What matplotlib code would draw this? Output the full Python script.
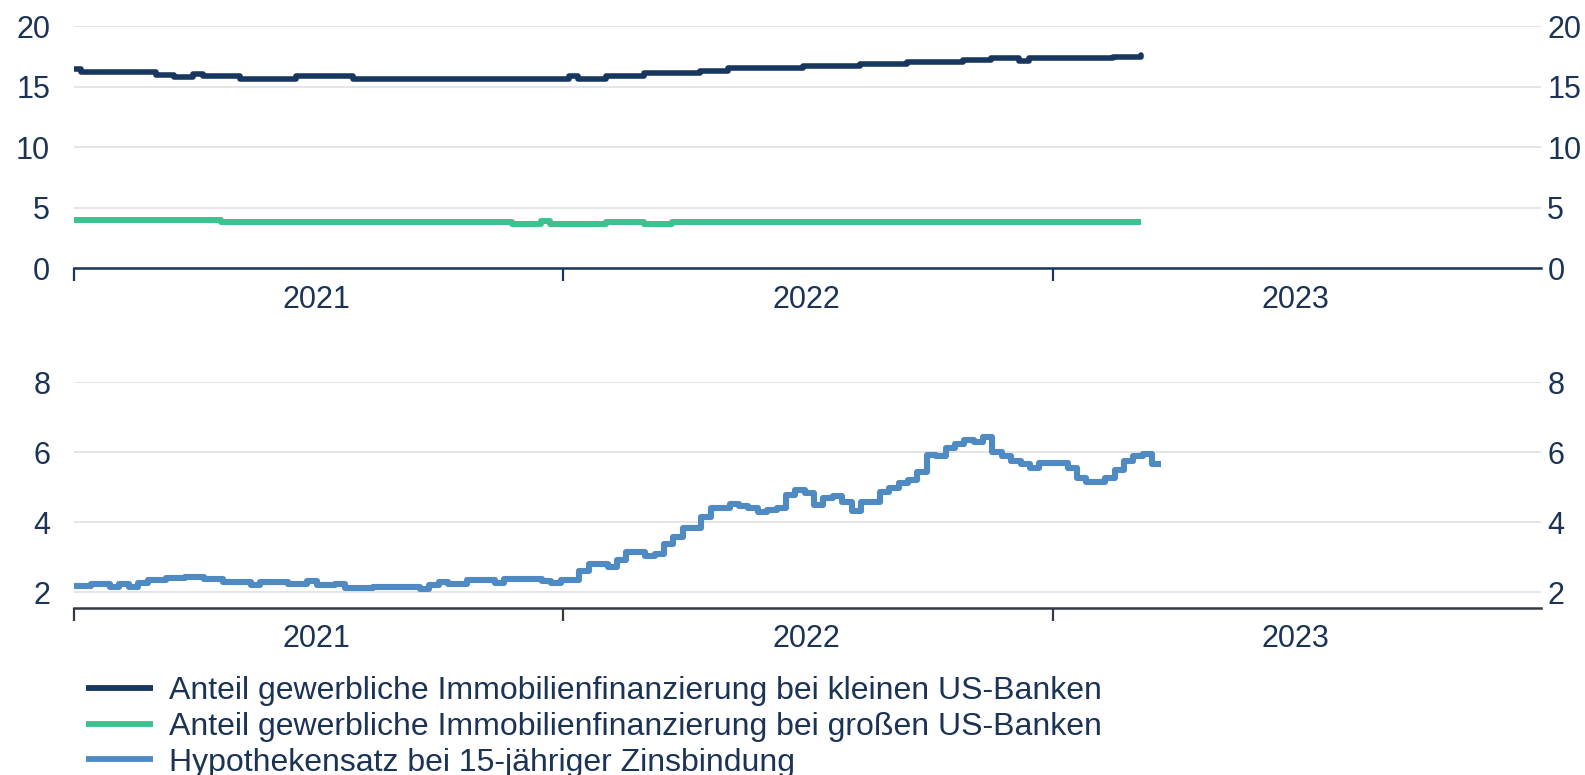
import matplotlib
matplotlib.use("Agg")
import matplotlib.pyplot as plt
import matplotlib.dates as mdates
from matplotlib.lines import Line2D
import pandas as pd

plt.rcParams['font.family'] = ['Liberation Sans', 'DejaVu Sans']

# ---------------- data ----------------
# weekly (Wednesday) observations, share of commercial real estate loans (%)
cre_start = "2020-12-30"
cre_small = [
    16.45,
    16.19, 16.19, 16.19, 16.19, 16.19, 16.19, 16.19, 16.19,
    15.99, 15.99, 15.83, 15.83, 16.05,
    15.91, 15.91, 15.91, 15.91,
    15.64, 15.64, 15.64, 15.64, 15.64, 15.64,
    15.91, 15.91, 15.91, 15.91, 15.91, 15.91,
    15.62, 15.62, 15.62, 15.62, 15.62, 15.62, 15.62, 15.62, 15.62, 15.62,
    15.62, 15.62, 15.62, 15.62, 15.62, 15.62, 15.62, 15.62, 15.62, 15.62,
    15.62, 15.62, 15.62,
    # 2022
    15.90, 15.67, 15.67, 15.67, 15.88, 15.88, 15.88, 15.88,
    16.11, 16.11, 16.11, 16.11, 16.11, 16.11, 16.33, 16.33, 16.33,
    16.52, 16.52, 16.52, 16.52, 16.52, 16.52, 16.52, 16.52,
    16.71, 16.71, 16.71, 16.71, 16.71, 16.71,
    16.88, 16.88, 16.88, 16.88, 16.88,
    17.07, 17.07, 17.07, 17.07, 17.07, 17.07,
    17.24, 17.24, 17.24, 17.38, 17.38, 17.38, 17.16,
    17.38, 17.38, 17.38,
    # 2023
    17.38, 17.38, 17.38, 17.38, 17.38, 17.38,
    17.49, 17.49, 17.49, 17.62,
]
cre_large = [
    4.00, 4.00, 4.00, 4.00, 4.00, 4.00, 4.00, 4.00,
    4.00, 4.00, 4.00, 4.00, 4.00, 4.00, 4.00, 4.00,
    3.80, 3.80, 3.80, 3.80, 3.80, 3.80, 3.80, 3.80, 3.80, 3.80,
    3.80, 3.80, 3.80, 3.80, 3.80, 3.80, 3.80, 3.80, 3.80, 3.80,
    3.80, 3.80, 3.80, 3.80, 3.80, 3.80, 3.80, 3.80, 3.80, 3.80,
    3.80,
    3.65, 3.65, 3.65, 3.88, 3.65, 3.65,
    # 2022
    3.65, 3.65, 3.65, 3.65, 3.84, 3.84, 3.84, 3.84, 3.65, 3.65, 3.65,
    3.80, 3.80, 3.80, 3.80, 3.80, 3.80, 3.80, 3.80, 3.80, 3.80,
    3.80, 3.80, 3.80, 3.80, 3.80, 3.80, 3.80, 3.80, 3.80, 3.80,
    3.80, 3.80, 3.80, 3.80, 3.80, 3.80, 3.80, 3.80, 3.80, 3.80,
    3.80, 3.80, 3.80, 3.80, 3.80, 3.80, 3.80, 3.80, 3.80, 3.80,
    3.80,
    # 2023
    3.80, 3.80, 3.80, 3.80, 3.80, 3.80, 3.80, 3.80, 3.80, 3.80,
]

# weekly (Thursday) 15-year fixed mortgage rate (%)
mort_start = "2020-12-31"
mortgage15 = [
    2.17, 2.17, 2.24, 2.24, 2.15,
    2.24, 2.15, 2.28, 2.34,
    2.34, 2.40, 2.40, 2.45,
    2.45, 2.37, 2.37, 2.30, 2.30,
    2.30, 2.22, 2.29, 2.29,
    2.29, 2.23, 2.23, 2.32,
    2.20, 2.20, 2.24, 2.12, 2.12,
    2.12, 2.16, 2.16, 2.16,
    2.16, 2.16, 2.11, 2.20,
    2.29, 2.24, 2.24, 2.34, 2.34,
    2.34, 2.27, 2.38, 2.38,
    2.38, 2.38, 2.33, 2.27, 2.34,
    # 2022
    2.36, 2.62, 2.81, 2.81,
    2.73, 2.92, 3.14, 3.14,
    3.05, 3.10, 3.38, 3.59,
    3.84, 3.84, 4.16, 4.41, 4.41,
    4.52, 4.45, 4.40, 4.29,
    4.36, 4.40, 4.79, 4.92,
    4.83, 4.48, 4.69, 4.74, 4.57,
    4.31, 4.57, 4.57, 4.86,
    4.97, 5.12, 5.21, 5.43, 5.93,
    5.89, 6.12, 6.24, 6.35,
    6.28, 6.42, 6.00, 5.89,
    5.76, 5.65, 5.54, 5.70, 5.70,
    # 2023
    5.70, 5.54, 5.27, 5.14,
    5.14, 5.27, 5.48, 5.76,
    5.89, 5.95, 5.67, 5.67,
]

labels = [
    "Anteil gewerbliche Immobilienfinanzierung bei kleinen US-Banken",
    "Anteil gewerbliche Immobilienfinanzierung bei großen US-Banken",
    "Hypothekensatz bei 15-jähriger Zinsbindung",
]
top_ticks = [0, 5, 10, 15, 20]
bottom_ticks = [2, 4, 6, 8]

cre_dates = pd.date_range(cre_start, periods=len(cre_small), freq="7D")
mort_dates = pd.date_range(mort_start, periods=len(mortgage15), freq="7D")

# ---------------- style ----------------
NAVY = "#17375e"
GREEN = "#3cc28e"
BLUE = "#4f8ac3"
TXT = "#1b3354"
GRID = "#e3e3e3"
FS = 22
FS_LEG = 23

W_FIG, H_FIG = 1585, 775
fig = plt.figure(figsize=(W_FIG / 100, H_FIG / 100), dpi=100)
left = 73.8 / W_FIG
width = (1541 - 73.8) / W_FIG
ax1 = fig.add_axes([left, 1 - 268 / H_FIG, width, (268 - 26.3) / H_FIG])
ax2 = fig.add_axes([left, 1 - 607.5 / H_FIG, width, (607.5 - 382) / H_FIG])

xmin, xmax = pd.Timestamp("2021-01-01"), pd.Timestamp("2023-12-31")

ax1.plot(cre_dates, cre_small, drawstyle="steps-post", color=NAVY,
         lw=4.0, solid_joinstyle="round", solid_capstyle="round", zorder=3)
ax1.plot(cre_dates, cre_large, drawstyle="steps-post", color=GREEN,
         lw=4.3, solid_joinstyle="round", solid_capstyle="butt", zorder=3)
ax2.plot(mort_dates, mortgage15, drawstyle="steps-post", color=BLUE,
         lw=4.4, solid_joinstyle="round", solid_capstyle="butt", zorder=3)

for ax, ticks, ylim, axcol in [(ax1, top_ticks, (0, 20), NAVY),
                               (ax2, bottom_ticks, (1.57, 8), "#333a44")]:
    ax.set_xlim(xmin, xmax)
    ax.set_ylim(*ylim)
    ax.set_yticks(ticks)
    ax.grid(axis="y", color=GRID, lw=1.3, zorder=0)
    ax.set_axisbelow(True)
    for s in ["top", "left", "right"]:
        ax.spines[s].set_visible(False)
    ax.spines["bottom"].set_color(axcol)
    ax.spines["bottom"].set_linewidth(1.8)
    ax.spines["bottom"].set_zorder(4)
    ax.tick_params(axis="y", length=0, pad=17, labelsize=FS, labelcolor=TXT)
    ax.xaxis.set_major_locator(mdates.YearLocator())
    ax.xaxis.set_major_formatter(plt.NullFormatter())
    ax.xaxis.set_minor_locator(mdates.MonthLocator(bymonth=7, bymonthday=1))
    ax.xaxis.set_minor_formatter(mdates.DateFormatter("%Y"))
    ax.tick_params(axis="x", which="major", length=9, width=1.6, color=axcol)
    ax.tick_params(axis="x", which="minor", length=0, pad=12, labelsize=FS, labelcolor=TXT)
    axr = ax.twinx()
    axr.set_ylim(*ylim)
    axr.set_yticks(ticks)
    for s in ["top", "left", "right", "bottom"]:
        axr.spines[s].set_visible(False)
    axr.tick_params(axis="y", length=0, pad=4.5, labelsize=FS, labelcolor=TXT)

handles = [Line2D([], [], color=c, lw=4.2, solid_capstyle="butt") for c in (NAVY, GREEN, BLUE)]
fig.legend(handles, labels, loc="upper left", bbox_to_anchor=(86 / W_FIG, 1 - 676 / H_FIG),
           frameon=False, borderpad=0, borderaxespad=0, handlelength=2.1,
           handletextpad=0.5, labelspacing=0.18, fontsize=FS_LEG, labelcolor=TXT)

fig.savefig("out.png", dpi=100)
